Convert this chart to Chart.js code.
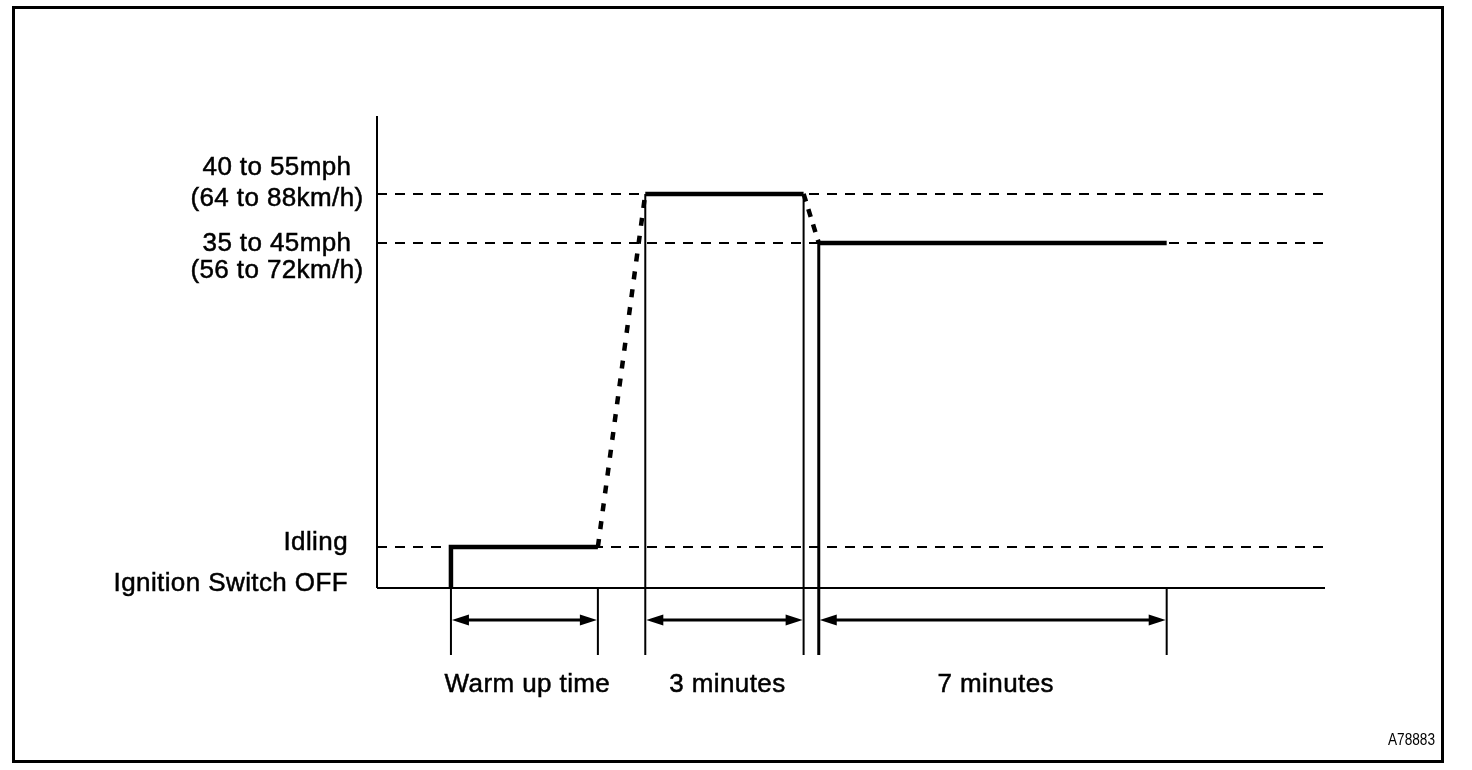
<!DOCTYPE html>
<html>
<head>
<meta charset="utf-8">
<script src="https://cdn.jsdelivr.net/npm/chart.js@4/dist/chart.umd.min.js"></script>
<style>
  html, body { margin: 0; padding: 0; background: #fff; }
  canvas { display: block; }
</style>
</head>
<body>
<canvas id="chart" width="1472" height="770"></canvas>
<script>
// speed levels (y, 0 = ignition off, 100 = top of the axis)
const levelLabels = [
  ["Ignition Switch OFF"],
  ["Idling"],
  ["35 to 45mph", "(56 to 72km/h)"],
  ["40 to 55mph", "(64 to 88km/h)"],
];
const levelValues = [0, 8.7, 73.1, 83.5];

// time marks (x, 0..100 along the axis)
const phaseLabels = ["Warm up time", "3 minutes", "7 minutes"];
const phaseStart = [7.8, 28.3, 46.6];
const phaseEnd = [23.3, 45.0, 83.3];

// driving pattern
const idleX = [7.8, 7.8, 23.3];
const idleY = [0, 8.7, 8.7];
const fastX = [28.3, 45.0];
const fastY = [83.5, 83.5];
const cruiseX = [46.6, 83.3];
const cruiseY = [73.1, 73.1];
const accelX = [23.3, 28.3];
const accelY = [8.7, 83.5];
const slowX = [45.0, 46.6];
const slowY = [83.5, 73.1];

const markBottom = -14.2;   // how far the time marks go below the axis
const arrowLevel = -6.8;

const pts = (xs, ys) => xs.map((x, i) => ({ x: x, y: ys[i] }));

const datasets = [];
const line = (data, width, dash, order) => datasets.push({
  data: data, borderColor: "#000", borderWidth: width, borderDash: dash || [],
  pointRadius: 0, tension: 0, clip: false, order: order, borderCapStyle: "butt"
});

// thick profile
line(pts(idleX, idleY), 4.5, null, 0);
line(pts(fastX, fastY), 4.5, null, 0);
line(pts(cruiseX, cruiseY), 4.5, null, 0);
// transitions
line(pts(accelX, accelY), 4.5, [8, 10], 0);
line(pts(slowX, slowY), 4.5, [8, 8], 0);

// time marks
line(pts([phaseStart[0], phaseStart[0]], [0, markBottom]), 2, null, 1);
line(pts([phaseEnd[0], phaseEnd[0]], [0, markBottom]), 2, null, 1);
line(pts([phaseStart[1], phaseStart[1]], [levelValues[3], markBottom]), 2, null, 1);
line(pts([phaseEnd[1], phaseEnd[1]], [levelValues[3], markBottom]), 2, null, 1);
line(pts([phaseStart[2], phaseStart[2]], [levelValues[2], markBottom]), 3, null, 1);
line(pts([phaseEnd[2], phaseEnd[2]], [0, markBottom]), 2, null, 1);

// level guides
for (let i = 1; i < levelValues.length; i++) {
  line(pts([0, 100], [levelValues[i], levelValues[i]]), 2, [10, 8], 2);
}
// axes
line(pts([0, 0], [0, 100]), 2, null, 1);
line(pts([0, 100], [0, 0]), 2, null, 1);

const decor = {
  id: "decor",
  afterDraw(chart) {
    const ctx = chart.ctx;
    const xs = chart.scales.x, ys = chart.scales.y;
    ctx.save();
    ctx.fillStyle = "#000";
    ctx.strokeStyle = "#000";

    // frame
    ctx.lineWidth = 3;
    ctx.strokeRect(13.5, 7.5, 1429, 754);

    // arrows
    const ay = ys.getPixelForValue(arrowLevel);
    const head = (tx, dir) => {
      ctx.beginPath();
      ctx.moveTo(tx, ay);
      ctx.lineTo(tx - dir * 17, ay - 5.5);
      ctx.lineTo(tx - dir * 17, ay + 5.5);
      ctx.closePath();
      ctx.fill();
    };
    ctx.lineWidth = 3;
    for (let i = 0; i < phaseLabels.length; i++) {
      const a = xs.getPixelForValue(phaseStart[i]) + 1;
      const b = xs.getPixelForValue(phaseEnd[i]) - 1;
      ctx.beginPath();
      ctx.moveTo(a + 10, ay);
      ctx.lineTo(b - 10, ay);
      ctx.stroke();
      head(a, -1);
      head(b, 1);
    }

    // labels (slight stroke to match the heavy print)
    const text = (t, x, y) => { ctx.fillText(t, x, y); ctx.strokeText(t, x, y); };
    ctx.lineWidth = 0.5;
    ctx.font = "26px 'Liberation Sans', Arial, sans-serif";
    ctx.letterSpacing = "0.4px";
    ctx.textBaseline = "middle";
    ctx.textAlign = "center";
    for (let i = 0; i < phaseLabels.length; i++) {
      const cx = (xs.getPixelForValue(phaseStart[i]) + xs.getPixelForValue(phaseEnd[i])) / 2 + 3;
      text(phaseLabels[i], cx, 685);
    }
    // level labels
    const offs = [[-4], [-4], [0.5, 28], [-26, 5]];
    for (let i = 0; i < levelLabels.length; i++) {
      const py = ys.getPixelForValue(levelValues[i]);
      const lines = levelLabels[i];
      if (lines.length === 1) {
        ctx.textAlign = "right";
        lines.forEach((t, k) => text(t, 348, py + offs[i][k]));
      } else {
        ctx.textAlign = "center";
        lines.forEach((t, k) => text(t, 277, py + offs[i][k]));
      }
    }

    // drawing number
    ctx.letterSpacing = "0px";
    ctx.font = "16px 'Liberation Sans', Arial, sans-serif";
    ctx.textAlign = "right";
    ctx.fillText("A78883", 1435, 741, 47);
    ctx.restore();
  }
};

new Chart(document.getElementById("chart"), {
  type: "line",
  data: { datasets: datasets },
  options: {
    responsive: false,
    animation: false,
    devicePixelRatio: 1,
    layout: { padding: { left: 377, right: 147, top: 116, bottom: 182 } },
    scales: {
      x: { type: "linear", min: 0, max: 100, display: false },
      y: { type: "linear", min: 0, max: 100, display: false }
    },
    plugins: { legend: { display: false }, tooltip: { enabled: false } }
  },
  plugins: [decor]
});
</script>
</body>
</html>
